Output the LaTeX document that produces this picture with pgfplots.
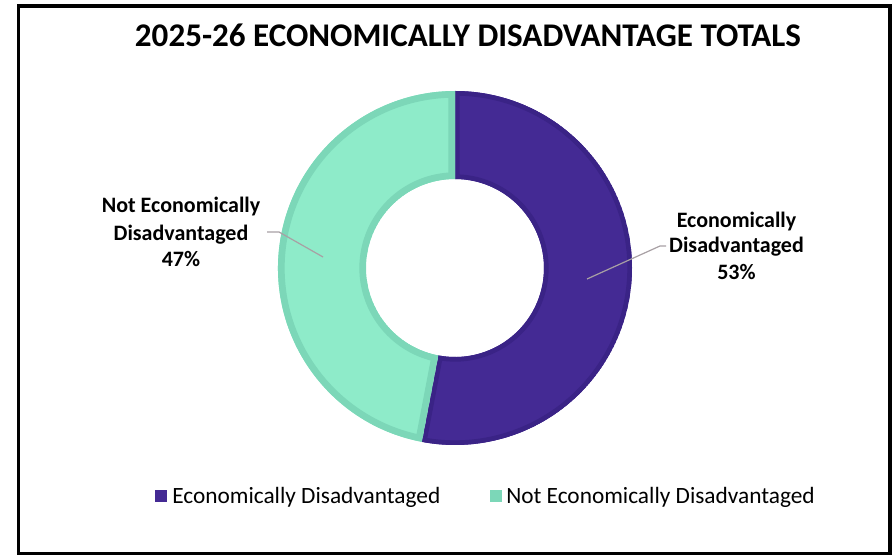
\documentclass[border=0pt]{standalone}
\usepackage{pgfplots}
\pgfplotsset{compat=1.18}
\usepackage{pgfplotstable}
\usepackage{fontspec}
\setmainfont{Carlito}
\usetikzlibrary{calc}
\definecolor{edfill}{HTML}{442A94}
\definecolor{edline}{HTML}{3A2386}
\definecolor{nedfill}{HTML}{8EEBC9}
\definecolor{nedline}{HTML}{7CD7B8}
\definecolor{leader}{HTML}{A8A0A4}

\pgfplotstableread{
idx value
0 53
1 47
}\donutdata

\newcommand\Ro{132.75pt}
\newcommand\Ri{66.75pt}
\newcommand\seg[2]{(C) ++(#1:\Ro) arc[start angle=#1, end angle=#2, radius=\Ro] -- ($(C)+(#2:\Ri)$) arc[start angle=#2, end angle=#1, radius=\Ri] -- cycle}

\begin{document}
\begin{tikzpicture}
\pgfplotstablegetelem{0}{value}\of\donutdata \edef\vA{\pgfplotsretval}
\pgfplotstablegetelem{1}{value}\of\donutdata \edef\vB{\pgfplotsretval}
\pgfmathsetmacro\aStart{90}
\pgfmathsetmacro\aMid{90-3.6*\vA}
\pgfmathsetmacro\aEnd{\aMid-3.6*\vB}
\begin{axis}[hide axis, scale only axis, x=0.75pt, y=0.75pt,
  xmin=0, xmax=896, ymin=0, ymax=555, clip=false]
\addplot[draw=none] coordinates {(0,0) (896,555)};
% frame
\draw[black, line width=2.5pt] (axis cs:18.5,549) rectangle (axis cs:890,1.5);
% title
\node[anchor=base, font=\bfseries\fontsize{24.8}{28}\selectfont] at (axis cs:468,508) {2025-26 ECONOMICALLY DISADVANTAGE TOTALS};
\coordinate (C) at (axis cs:455,287);
% economically disadvantaged
\begin{scope}
\clip \seg{\aStart}{\aMid};
\fill[edfill] \seg{\aStart}{\aMid};
\draw[edline, line width=7pt] \seg{\aStart}{\aMid};
\end{scope}
% not economically disadvantaged
\begin{scope}
\clip \seg{\aMid}{\aEnd};
\fill[nedfill] \seg{\aMid}{\aEnd};
\draw[nedline, line width=10pt] \seg{\aMid}{\aEnd};
\end{scope}
% leader lines
\draw[leader, line width=0.9pt] (axis cs:587,276) -- (axis cs:660,309) -- (axis cs:666,309);
\draw[leader, line width=0.9pt] (axis cs:267,323) -- (axis cs:279,323) -- (axis cs:323,298);
% data labels
\begin{scope}[every node/.style={anchor=base, font=\bfseries\fontsize{16.5}{20}\selectfont}]
\node at (axis cs:736.5,327) {Economically};
\node at (axis cs:736.5,302) {Disadvantaged};
\node at (axis cs:736.5,275) {\vA\%};
\node at (axis cs:181,342) {Not Economically};
\node at (axis cs:181,314) {Disadvantaged};
\node at (axis cs:181,288) {\vB\%};
\end{scope}
% legend
\fill[edfill] (axis cs:155,53) rectangle (axis cs:167,65);
\node[anchor=base west, inner sep=0pt, font=\fontsize{17.5}{20}\selectfont] at (axis cs:172,52) {Economically Disadvantaged};
\fill[nedline] (axis cs:490,53) rectangle (axis cs:502,65);
\node[anchor=base west, inner sep=0pt, font=\fontsize{17.5}{20}\selectfont] at (axis cs:506,52) {Not Economically Disadvantaged};
\end{axis}
\end{tikzpicture}
\end{document}
